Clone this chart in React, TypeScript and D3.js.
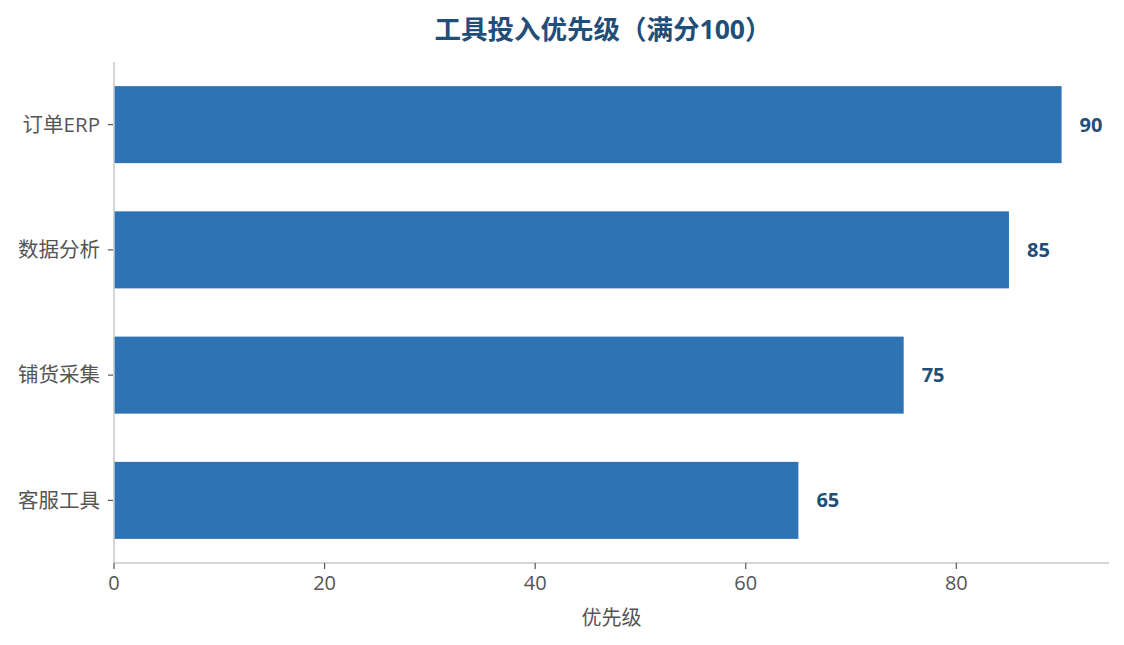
import React from 'react';
import { scaleBand, scaleLinear } from 'd3';

const categories = ['订单ERP', '数据分析', '铺货采集', '客服工具'];
const priority = [90, 85, 75, 65];
const xTicks = [0, 20, 40, 60, 80];

const W = 1124;
const H = 645;
const margin = { left: 114, right: 15, top: 62, bottom: 82 };
const font = '"Open Sans", "Noto Sans CJK SC", sans-serif';

const App: React.FC = () => {
  const x = scaleLinear()
    .domain([0, 94.5])
    .range([margin.left, W - margin.right]);
  const y = scaleBand()
    .domain(categories)
    .range([margin.top, H - margin.bottom])
    .paddingInner(0.385)
    .paddingOuter(0.1925);
  const baseY = H - margin.bottom;

  return (
    <svg
      width={W}
      height={H}
      style={{ position: 'absolute', left: 0, top: 0, background: '#fff' }}
      fontFamily={font}
    >
      <text x={603} y={39} textAnchor="middle" fontSize={26.5} fontWeight="bold" fill="#1f4e79">
        工具投入优先级（满分100）
      </text>

      {categories.map((c, i) => (
        <g key={c}>
          <rect
            x={x(0)}
            y={y(c)!}
            width={x(priority[i]) - x(0)}
            height={y.bandwidth()}
            fill="#2e74b5"
          />
          <text
            x={x(priority[i]) + 18}
            y={y(c)! + y.bandwidth() / 2}
            dy="0.35em"
            fontSize={20}
            fontWeight="bold"
            fill="#1f4e79"
          >
            {priority[i]}
          </text>
          <line
            x1={x(0) - 6}
            x2={x(0) - 1}
            y1={y(c)! + y.bandwidth() / 2}
            y2={y(c)! + y.bandwidth() / 2}
            stroke="#555"
            strokeWidth={1.2}
          />
          <text
            x={x(0) - 14}
            y={y(c)! + y.bandwidth() / 2}
            dy="0.35em"
            textAnchor="end"
            fontSize={20.5}
            fill="#555"
          >
            {c}
          </text>
        </g>
      ))}

      <line x1={x(0)} x2={x(0)} y1={margin.top} y2={baseY} stroke="#c8c8c8" strokeWidth={1.5} />
      <line x1={x(0)} x2={W - margin.right} y1={baseY} y2={baseY} stroke="#c8c8c8" strokeWidth={1.5} />

      {xTicks.map((t) => (
        <g key={t}>
          <line x1={x(t)} x2={x(t)} y1={baseY} y2={baseY + 6} stroke="#555" strokeWidth={1.2} />
          <text x={x(t)} y={baseY + 27} textAnchor="middle" fontSize={20} fill="#555">
            {t}
          </text>
        </g>
      ))}

      <text x={(x(0) + W - margin.right) / 2} y={625} textAnchor="middle" fontSize={20} fill="#555">
        优先级
      </text>
    </svg>
  );
};

export default App;
